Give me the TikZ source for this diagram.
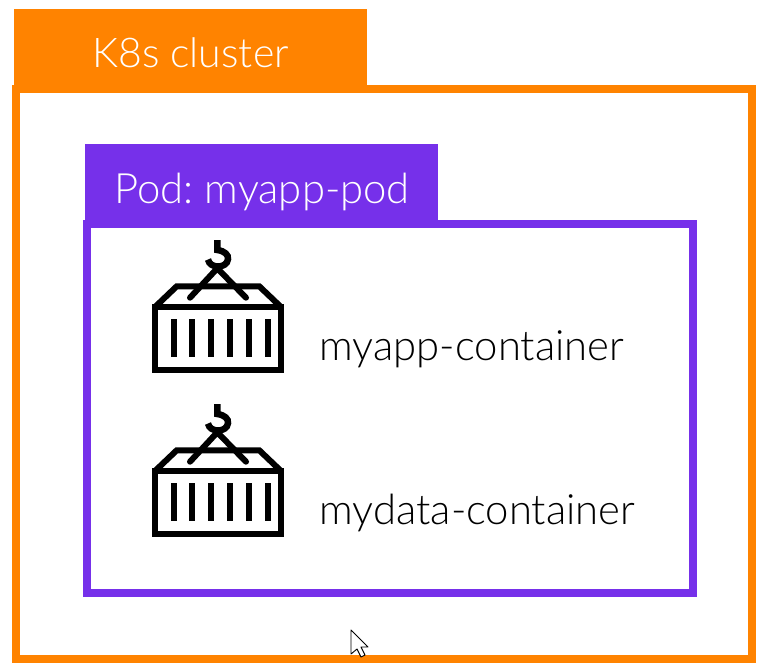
\documentclass[tikz,border=0pt]{standalone}
\usepackage{fontspec}
\setmainfont{Lato Light}
\definecolor{k8sorange}{HTML}{FF8300}
\definecolor{podpurple}{HTML}{7630EA}
\tikzset{
  tabbox/.style={anchor=north west,inner sep=0pt,minimum width=353pt,minimum height=76pt},
  frame/.style={line width=8pt,draw},
  tablabel/.style={text=white,font=\fontsize{41}{41}\selectfont,anchor=base west,inner sep=0pt},
  podlabelstyle/.style={text=white,font=\fontsize{41.8}{41.8}\selectfont,anchor=base west,inner sep=0pt},
  itemlabel/.style={text=black,font=\fontsize{41.8}{41.8}\selectfont,anchor=base west,inner sep=0pt},
  icon/.style={line width=6pt,draw=black,line join=miter},
  pics/containericon/.style={code={
    \draw[icon] (17,77) -- (38.7,56.3) -- (121.3,56.3) -- (143,77);
    \draw[icon] (17,77) rectangle (143,140);
    \foreach \bx in {35.7,54.3,73.3,92.3,111,130}{
      \fill[black] ({\bx-3.1},89.3) rectangle ({\bx+3.1},127.3);
    }
    \draw[icon,line cap=round] (52,67.7) -- (79.3,38.3) -- (108,67.7);
    \draw[icon,line width=6.5pt,line cap=butt] (79.3,10) -- (79.3,20) .. controls (87,21) and (90.5,25) .. (90,29) .. controls (89.5,34) and (85,36.5) .. (80,36.5) .. controls (75,36.5) and (71,34) .. (70,29.5);
  }}
}
\begin{document}
\begin{tikzpicture}[x=1pt,y=-1pt]
\useasboundingbox (0,0) rectangle (765,670);
\fill[white] (0,0) rectangle (765,670);
\node[tabbox,fill=k8sorange] (clustertab) at (14,9) {};
\draw[frame,draw=k8sorange] (16,89) rectangle (752,659);
\node[tablabel] (clusterlabel) at (92,67) {K8s cluster};
\node[tabbox,fill=podpurple] (podtab) at (85,144) {};
\draw[frame,draw=podpurple] (87,224) rectangle (693,593);
\node[podlabelstyle] (podlabel) at (114,203) {Pod:\ myapp-pod};
\pic at (138,230) {containericon};
\pic at (138,394) {containericon};
\node[itemlabel] (applabel) at (319.5,360) {myapp-container};
\node[itemlabel] (datalabel) at (319.5,524) {mydata-container};
\filldraw[fill=white,draw=black,line width=0.9pt,line join=round] (351,630) -- (351,654) -- (357,649) -- (361,657) -- (365,655) -- (361,647) -- (368,647) -- cycle;
\end{tikzpicture}
\end{document}
